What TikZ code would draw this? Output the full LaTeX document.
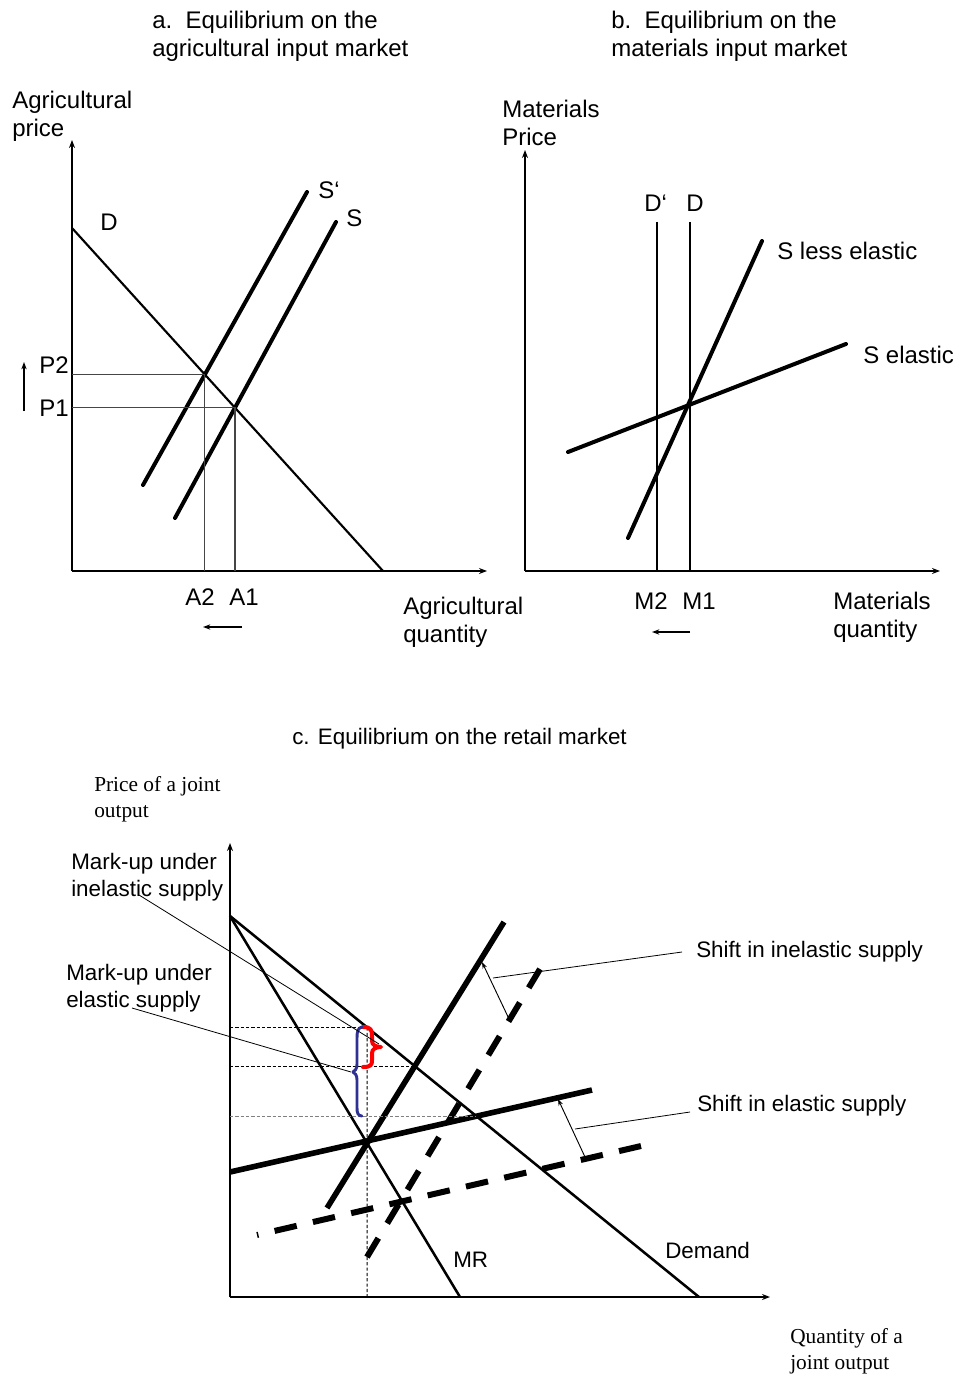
\documentclass[tikz,border=0pt]{standalone}
\usepackage{fontspec}
\setmainfont{Liberation Sans}
\newfontfamily\serifff{Liberation Serif}
\usetikzlibrary{arrows.meta,calc}
\definecolor{bracered}{RGB}{255,0,0}
\definecolor{braceblue}{RGB}{46,49,146}
\definecolor{thingrey}{RGB}{70,70,70}
\begin{document}
\begin{tikzpicture}[x=0.75pt,y=-0.75pt,
  lbl/.style={anchor=base west,inner sep=0pt,align=left,font=\fontsize{18}{21}\selectfont},
  lblc/.style={anchor=base west,inner sep=0pt,align=left,font=\fontsize{16.8}{20.2}\selectfont},
  srf/.style={anchor=base west,inner sep=0pt,align=left,font=\serifff\fontsize{16}{19.3}\selectfont},
  axis/.style={line width=1.4pt,-{Stealth[length=6pt,width=4.5pt]}},
  smallarrow/.style={line width=1.1pt,-{Stealth[length=5.5pt,width=4pt]}},
  medline/.style={line width=1.6pt},
  thickline/.style={line width=3pt,line cap=round},
  thinline/.style={line width=0.8pt,color=thingrey},
  heavyline/.style={line width=4.2pt},
  heavydashI/.style={line width=4.5pt,dash pattern=on 16.5pt off 12.94pt},
  heavydashE/.style={line width=4.5pt,dash pattern=on 17pt off 12.46pt,dash phase=15.9pt},
  dotline/.style={line width=0.7pt,dash pattern=on 2.4pt off 1.6pt},
  leader/.style={line width=0.6pt},
  shiftarrow/.style={line width=0.7pt,-{Stealth[length=5pt,width=3.5pt]}},
  bracepath/.style={line cap=round,line join=round}
]
\useasboundingbox (0,0) rectangle (960,1376);

% ---------------- Panel a ----------------
\node[lbl] (titleA) at (152,56.6) {a.~~Equilibrium on the\\agricultural input market};
\node[lbl] (ylabA) at (12,136.6) {Agricultural\\price};
\node[lbl] (xlabA) at (403,642) {Agricultural\\quantity};

\coordinate (aO) at (72,571);
\coordinate (aY) at (72,140);
\coordinate (aX) at (487,571);
\draw[axis] (aO) -- (aY);
\draw[axis] (aO) -- (aX);

\coordinate (aD1) at (72,228);
\coordinate (aD2) at (383,571);
\coordinate (aSp1) at (143,485);
\coordinate (aSp2) at (307,192);
\coordinate (aS1) at (175,518);
\coordinate (aS2) at (336,222);
\draw[medline] (aD1) -- (aD2);
\draw[thickline] (aSp1) -- (aSp2);
\draw[thickline] (aS1) -- (aS2);
\coordinate (aE2) at (intersection of aD1--aD2 and aSp1--aSp2);
\coordinate (aE1) at (intersection of aD1--aD2 and aS1--aS2);
\draw[thinline] (aO |- aE2) -- (aE2) -- (aE2 |- aO);
\draw[thinline] (aO |- aE1) -- (aE1) -- (aE1 |- aO);

\node[lbl] (labD) at (100,231) {D};
\node[lbl] (labSp) at (318,199) {S‘};
\node[lbl] (labS) at (346,227) {S};
\node[lbl] (labP2) at (39,373) {P2};
\node[lbl] (labP1) at (39,416) {P1};
\node[lbl] (labA2) at (185,605) {A2};
\node[lbl] (labA1) at (229,605) {A1};

\coordinate (upS) at (24,411);
\coordinate (upE) at (24,362);
\draw[smallarrow] (upS) -- (upE);
\coordinate (lfS) at (242,627);
\coordinate (lfE) at (203,627);
\draw[smallarrow] (lfS) -- (lfE);

% ---------------- Panel b ----------------
\node[lbl] (titleB) at (611,56.6) {b.~~Equilibrium on the\\materials input market};
\node[lbl] (ylabB) at (502,145.6) {Materials\\Price};
\node[lbl] (xlabB) at (833,637) {Materials\\quantity};

\coordinate (bO) at (525,571);
\coordinate (bY) at (525,150);
\coordinate (bX) at (940,571);
\draw[axis] (bO) -- (bY);
\draw[axis] (bO) -- (bX);

\coordinate (bDp1) at (657,222);
\coordinate (bDp2) at (657,571);
\coordinate (bD1) at (690,222);
\coordinate (bD2) at (690,571);
\draw[medline] (bDp1) -- (bDp2);
\draw[medline] (bD1) -- (bD2);
\coordinate (bSl1) at (628,538);
\coordinate (bSl2) at (762,241);
\coordinate (bSe1) at (568,452);
\coordinate (bSe2) at (846,344);
\draw[thickline] (bSl1) -- (bSl2);
\draw[thickline] (bSe1) -- (bSe2);

\node[lbl] (labDp) at (644,212) {D‘};
\node[lbl] (labDb) at (686,212) {D};
\node[lbl] (labSl) at (777,260) {S less elastic};
\node[lbl] (labSe) at (863,363) {S elastic};
\node[lbl] (labM2) at (634,609) {M2};
\node[lbl] (labM1) at (682,609) {M1};

\coordinate (lbS) at (690,632);
\coordinate (lbE) at (652,632);
\draw[smallarrow] (lbS) -- (lbE);

% ---------------- Panel c ----------------
\node[lblc] (titleC) at (292,744) {c. Equilibrium on the retail market};
\node[srf] (ylabC) at (94,817) {Price of a joint\\output};
\node[srf] (xlabC) at (790,1369) {Quantity of a\\joint output};

\coordinate (cO) at (230,1297);
\coordinate (cY) at (230,843);
\coordinate (cX) at (770,1297);
\draw[axis] (cO) -- (cY);
\draw[axis] (cO) -- (cX);

\coordinate (cTop) at (230,916);
\coordinate (cDem) at (699,1297);
\coordinate (cMR) at (460,1297);
\draw[line width=1.9pt] (cTop) -- (cDem);
\draw[line width=1.9pt] (cTop) -- (cMR);

\coordinate (cSi1) at (327,1208);
\coordinate (cSi2) at (504,922);
\coordinate (cSe1) at (230,1172);
\coordinate (cSe2) at (592,1090);
\coordinate (cSid1) at (367,1257);
\coordinate (cSid2) at (540,969);
\coordinate (cSed1) at (257,1235);
\coordinate (cSed2) at (641,1146);
\draw[heavydashI] (cSid1) -- (cSid2);
\draw[heavydashE] (cSed1) -- (cSed2);
\draw[heavyline] (cSi1) -- (cSi2);
\draw[heavyline] (cSe1) -- (cSe2);

\coordinate (cEq) at (intersection of cTop--cMR and cSi1--cSi2);
\coordinate (cEqUp) at (cEq |- cTop);
\coordinate (cEqTop) at (intersection of cTop--cDem and cEq--cEqUp);
\coordinate (cPi) at (intersection of cTop--cDem and cSi1--cSi2);
\coordinate (cPe) at (intersection of cTop--cDem and cSe1--cSe2);
\draw[dotline] (cEqTop) -- (cEq |- cO);
\draw[dotline] (cO |- cEqTop) -- (cEqTop);
\draw[dotline] (cO |- cPi) -- (cPi);
\draw[dotline,color=gray] (cO |- cPe) -- (cPe);

% braces
\draw[bracered,line width=3pt,bracepath]
  (363,1027) .. controls (371,1027) and (372,1030) .. (372,1036)
  -- (372,1041) .. controls (372,1045) and (376,1047) .. (381,1047)
  .. controls (376,1047) and (372,1049) .. (372,1053)
  -- (372,1060) .. controls (372,1065) and (371,1067) .. (363,1067);
\draw[braceblue,line width=2.2pt,bracepath]
  (362,1027) .. controls (358,1028) and (357,1031) .. (357,1038)
  -- (357,1064) .. controls (357,1069) and (355,1071) .. (353,1072)
  .. controls (355,1073) and (357,1075) .. (357,1080)
  -- (357,1108) .. controls (357,1113) and (358,1116) .. (362,1116);

% mark-up labels and leaders
\node[lblc] (muInel) at (71,896) {Mark-up under\\inelastic supply};
\node[lblc] (muEl) at (66,1007) {Mark-up under\\elastic supply};
\coordinate (muInelA) at (139,895);
\coordinate (muInelB) at (379,1044);
\coordinate (muElA) at (132,1008);
\coordinate (muElB) at (351,1072);
\draw[leader] (muInelA) -- (muInelB);
\draw[leader] (muElA) -- (muElB);

% shift labels
\node[lblc] (shInel) at (696,957) {Shift in inelastic supply};
\node[lblc] (shEl) at (697,1111) {Shift in elastic supply};
\coordinate (shInelA) at (682,952);
\coordinate (shInelB) at (493,978);
\coordinate (shElA) at (690,1112);
\coordinate (shElB) at (575,1129);
\draw[leader] (shInelA) -- (shInelB);
\draw[leader] (shElA) -- (shElB);
\coordinate (arIS) at (510,1021);
\coordinate (arIE) at (482,962);
\coordinate (arES) at (585,1157);
\coordinate (arEE) at (558,1099);
\draw[shiftarrow] (arIS) -- (arIE);
\draw[shiftarrow] (arES) -- (arEE);

\node[lblc] (labDem) at (665,1258) {Demand};
\node[lblc] (labMR) at (453,1267) {MR};
\end{tikzpicture}
\end{document}
